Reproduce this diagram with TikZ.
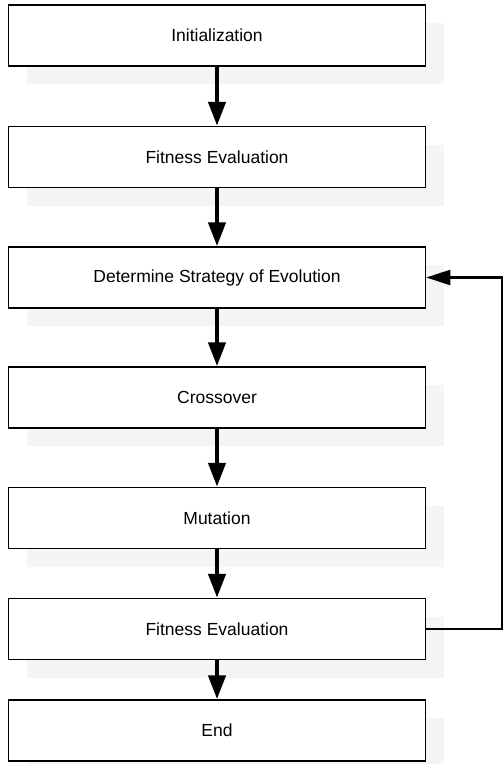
\documentclass[tikz,border=0pt]{standalone}
\usepackage{fontspec}
\setmainfont{Liberation Sans}
\usetikzlibrary{arrows.meta,shadows}
\begin{document}
\begin{tikzpicture}[x=1pt,y=-1pt,line width=1.5pt,
	box/.style={draw,fill=white,minimum width=417pt,minimum height=61pt,inner sep=0pt,
		font=\fontsize{17.5}{20}\selectfont,
		drop shadow={shadow xshift=18pt,shadow yshift=-18pt,fill=black!4,opacity=1}},
	flow/.style={-{Triangle[length=24pt,width=17pt]},line width=4.5pt},
	back/.style={-{Triangle[length=24pt,width=15pt]},line width=2.2pt}]
	\useasboundingbox (0,0) rectangle (503,764);
	\node[box] (init) at (217,35.5) {Initialization};
	\node[box] (fitA) at (217,157) {Fitness Evaluation};
	\node[box] (strat) at (217,277.5) {Determine Strategy of Evolution};
	\node[box] (cross) at (217,397.5) {Crossover};
	\node[box] (mut) at (217,518) {Mutation};
	\node[box] (fitB) at (217,629) {Fitness Evaluation};
	\node[box] (stop) at (217,730.5) {End};
	\draw[flow] (init) -- (fitA);
	\draw[flow] (fitA) -- (strat);
	\draw[flow] (strat) -- (cross);
	\draw[flow] (cross) -- (mut);
	\draw[flow] (mut) -- (fitB);
	\draw[flow] (fitB) -- (stop);
	\draw[back] (fitB.east) -- ++(75.5,0) |- (strat.east);
\end{tikzpicture}
\end{document}
